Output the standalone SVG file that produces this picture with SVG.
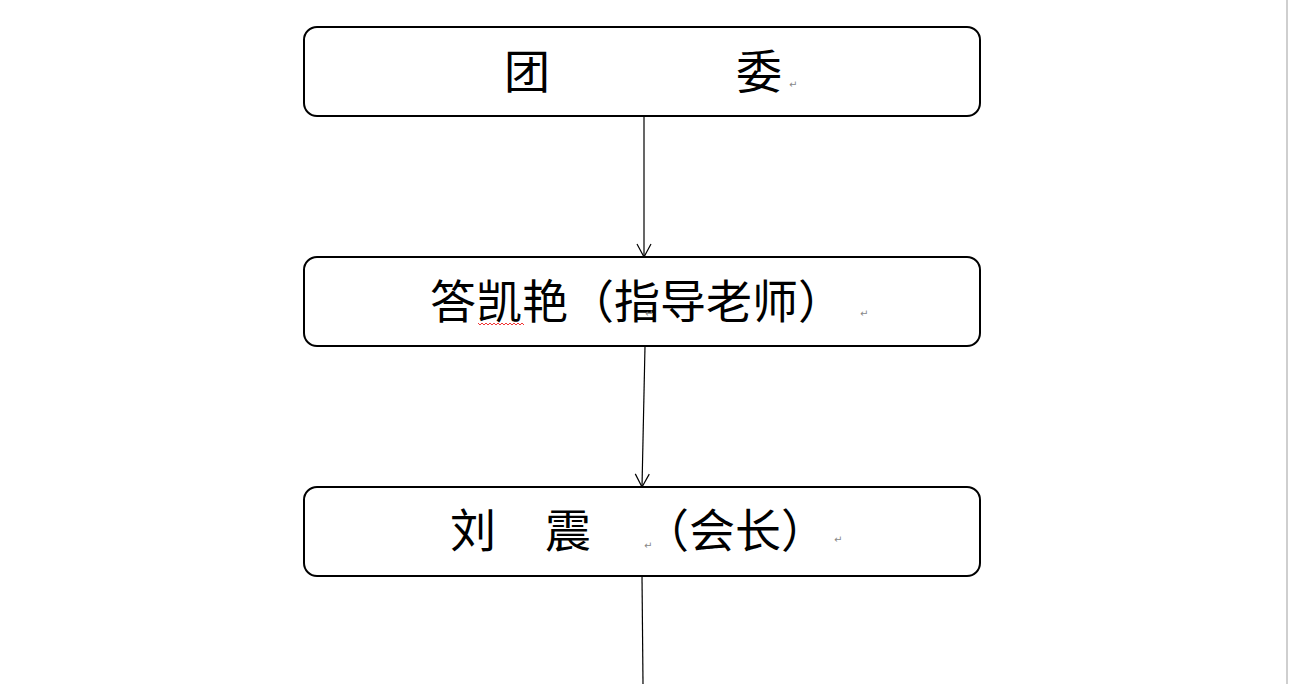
<svg xmlns="http://www.w3.org/2000/svg" width="1289" height="684" viewBox="0 0 1289 684">
<defs>
<style>
.box{fill:#fff;stroke:#000;stroke-width:2}
.lbl{font-family:"Noto Sans CJK SC","Noto Sans",sans-serif;font-size:46px;fill:#000}
.pm{font-family:"DejaVu Sans",sans-serif;font-size:10px;fill:#888}
.con{stroke:#000;stroke-width:1.2;fill:none}
</style>
<marker id="arr" markerUnits="userSpaceOnUse" markerWidth="16" markerHeight="16" refX="14" refY="8" orient="auto">
<path d="M1,1 L14,8 L1,15" fill="none" stroke="#000" stroke-width="1.2"/>
</marker>
</defs>
<rect width="1289" height="684" fill="#fff"/>
<rect x="1286" y="0" width="2" height="684" fill="#cfcfcf"/>
<g id="connectors">
<line class="con" x1="644" y1="116" x2="644" y2="257" marker-end="url(#arr)"/>
<line class="con" x1="645" y1="346" x2="642" y2="487" marker-end="url(#arr)"/>
<line class="con" x1="642" y1="576" x2="643" y2="684"/>
</g>
<g id="node-tuanwei">
<rect class="box" x="304" y="27" width="676" height="89" rx="13"/>
<text class="lbl" y="88"><tspan x="504">团</tspan><tspan x="736">委</tspan></text>
<text class="pm" x="789" y="88">↵</text>
</g>
<g id="node-teacher">
<rect class="box" x="304" y="257" width="676" height="89" rx="13"/>
<text class="lbl" x="430" y="318">答凯艳（指导老师）</text>
<path d="M478,323 l2,2 l2,-2 l2,2 l2,-2 l2,2 l2,-2 l2,2 l2,-2 l2,2 l2,-2 l2,2 l2,-2 l2,2 l2,-2 l2,2 l2,-2 l2,2 l2,-2 l2,2 l2,-2 l2,2 l2,-2 l2,2" fill="none" stroke="#e00" stroke-width="0.8"/>
<text class="pm" x="645" y="317">↵</text>
<text class="pm" x="860" y="317">↵</text>
</g>
<g id="node-president">
<rect class="box" x="304" y="487" width="676" height="89" rx="13"/>
<text class="lbl" y="547"><tspan x="450">刘</tspan><tspan x="545">震</tspan><tspan x="643">（会长）</tspan></text>
<text class="pm" x="644" y="549">↵</text>
<text class="pm" x="834" y="543">↵</text>
</g>
</svg>
